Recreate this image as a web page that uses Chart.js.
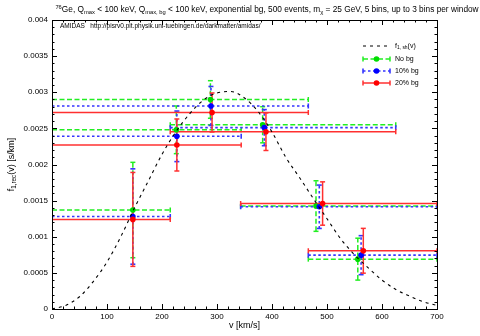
<!DOCTYPE html>
<html>
<head>
<meta charset="utf-8">
<script src="https://cdn.jsdelivr.net/npm/chart.js@4.4.0/dist/chart.umd.min.js"></script>
<style>
  html, body { margin: 0; padding: 0; background: #fff; }
</style>
</head>
<body>
<canvas id="chart" width="480" height="336"></canvas>
<script>
// theory curve f_1,sh(v)
var theoryV = [0, 25, 50, 75, 100, 125, 150, 175, 200, 225, 250, 275, 300, 325, 350, 375, 400, 425, 450, 475, 500, 525, 550, 575, 600, 625, 650, 675, 700];
var theoryF = [0, 0.00005, 0.00017, 0.00038, 0.00065, 0.00100, 0.00140, 0.00177, 0.00214, 0.00245, 0.00270, 0.00289, 0.00299, 0.00301, 0.00292, 0.00273, 0.00245, 0.00210, 0.00182, 0.00153, 0.00125, 0.00097, 0.00075, 0.00057, 0.00040, 0.00027, 0.00018, 0.00010, 0.00005];

// windows (same for the three runs), in km/s
var winLo = [0, 0, 0, 215, 343, 466];
var winHi = [215, 344, 466, 625, 700, 700];

// No bg
var noBgV = [147, 226, 288, 383, 480, 556];
var noBgF = [0.00137, 0.00248, 0.00290, 0.00255, 0.001425, 0.00069];
var noBgErr = [0.00066, 0.00033, 0.00026, 0.00025, 0.00035, 0.00029];

// 10% bg
var bg10V = [147, 227, 289, 386, 486, 562];
var bg10F = [0.00128, 0.00239, 0.00281, 0.00251, 0.001415, 0.000745];
var bg10Err = [0.00066, 0.00035, 0.00027, 0.00025, 0.00030, 0.00027];

// 20% bg
var bg20V = [147, 227, 291, 389, 492, 566];
var bg20F = [0.00124, 0.00227, 0.00272, 0.002454, 0.00146, 0.000806];
var bg20Err = [0.00065, 0.00036, 0.00027, 0.00026, 0.00030, 0.00031];

var FONT = '"Liberation Sans", Arial, sans-serif';

function toXY(xs, ys) {
  var out = [];
  for (var i = 0; i < xs.length; i++) out.push({ x: xs[i], y: ys[i] });
  return out;
}

var barSets = [
  { v: noBgV, f: noBgF, err: noBgErr, color: '#22ee22', dot: '#00dd00', dash: [5, 2.5], width: 1.5 },
  { v: bg10V, f: bg10F, err: bg10Err, color: '#3535ff', dot: '#0000ff', dash: [2.5, 2.5], width: 1.6 },
  { v: bg20V, f: bg20F, err: bg20Err, color: '#ff3030', dot: '#ff0000', dash: [], width: 1.5 }
];

// draws a line of text with sub/superscripts, segments = [[text, 0|1|-1], ...]
function richText(ctx, segs, x, y, size, align) {
  var w = 0, i;
  for (i = 0; i < segs.length; i++) {
    ctx.font = (segs[i][1] ? size * 0.7 : size) + 'px ' + FONT;
    w += ctx.measureText(segs[i][0]).width;
  }
  var cx = align === 'center' ? x - w / 2 : x;
  ctx.textBaseline = 'middle';
  ctx.textAlign = 'left';
  for (i = 0; i < segs.length; i++) {
    var s = segs[i];
    ctx.font = (s[1] ? size * 0.7 : size) + 'px ' + FONT;
    var dy = s[1] === -1 ? size * 0.3 : (s[1] === 1 ? -size * 0.35 : 0);
    ctx.fillText(s[0], cx, y + dy);
    cx += ctx.measureText(s[0]).width;
  }
}

function barLine(ctx, x0, y0, x1, y1) {
  ctx.beginPath();
  ctx.moveTo(x0, y0);
  ctx.lineTo(x1, y1);
  ctx.stroke();
}

var errorBars = {
  id: 'errorBars',
  beforeDatasetsDraw: function (chart) {
    var ctx = chart.ctx, xs = chart.scales.x, ys = chart.scales.y, a = chart.chartArea;
    ctx.save();
    ctx.beginPath();
    ctx.rect(a.left, a.top, a.right - a.left, a.bottom - a.top);
    ctx.clip();
    barSets.forEach(function (s) {
      ctx.strokeStyle = s.color;
      ctx.lineWidth = s.width;
      for (var i = 0; i < s.v.length; i++) {
        var px = xs.getPixelForValue(s.v[i]);
        var py = ys.getPixelForValue(s.f[i]);
        var x0 = xs.getPixelForValue(winLo[i]);
        var x1 = xs.getPixelForValue(winHi[i]);
        var y0 = ys.getPixelForValue(s.f[i] - s.err[i]);
        var y1 = ys.getPixelForValue(s.f[i] + s.err[i]);
        ctx.setLineDash(s.dash);
        barLine(ctx, x0, py, x1, py);
        barLine(ctx, px, y0, px, y1);
        ctx.setLineDash([]);
        // caps
        barLine(ctx, x0, py - 2.5, x0, py + 2.5);
        barLine(ctx, x1, py - 2.5, x1, py + 2.5);
        barLine(ctx, px - 2.5, y0, px + 2.5, y0);
        barLine(ctx, px - 2.5, y1, px + 2.5, y1);
      }
    });
    ctx.restore();
  }
};

// frame, inward ticks on all sides, titles, legend and the AMIDAS note
var decorations = {
  id: 'decorations',
  afterDraw: function (chart) {
    var ctx = chart.ctx, xs = chart.scales.x, ys = chart.scales.y, a = chart.chartArea;
    ctx.save();
    ctx.strokeStyle = '#000';
    ctx.lineWidth = 1;
    ctx.setLineDash([]);
    ctx.strokeRect(Math.round(a.left) + 0.5, Math.round(a.top) + 0.5, Math.round(a.right - a.left), Math.round(a.bottom - a.top));
    var v, p, len;
    for (v = 0; v <= 700; v += 20) {
      p = Math.round(xs.getPixelForValue(v)) + 0.5;
      len = v % 100 === 0 ? 5 : 2.5;
      barLine(ctx, p, a.bottom, p, a.bottom - len);
      barLine(ctx, p, a.top, p, a.top + len);
    }
    for (v = 0; v <= 40; v += 1) {
      p = Math.round(ys.getPixelForValue(v * 0.0001)) + 0.5;
      len = v % 5 === 0 ? 5 : 2.5;
      barLine(ctx, a.left, p, a.left + len, p);
      barLine(ctx, a.right, p, a.right - len, p);
    }

    ctx.fillStyle = '#000';
    richText(ctx, [['76', 1], ['Ge, Q', 0], ['max', -1], [' < 100 keV, Q', 0], ['max, bg', -1],
      [' < 100 keV, exponential bg, 500 events, m', 0], ['\u03c7', -1], [' = 25 GeV, 5 bins, up to 3 bins per window', 0]],
      267, 10, 8.3, 'center');

    richText(ctx, [['v [km/s]', 0]], (a.left + a.right) / 2, 326, 9, 'center');

    ctx.save();
    ctx.translate(12, (a.top + a.bottom) / 2);
    ctx.rotate(-Math.PI / 2);
    richText(ctx, [['f', 0], ['1,rec', -1], ['(v) [s/km]', 0]], 0, 0, 9, 'center');
    ctx.restore();

    ctx.font = '6.5px ' + FONT;
    ctx.textAlign = 'left';
    ctx.textBaseline = 'middle';
    ctx.fillText('AMIDAS   http://pisrv0.pit.physik.uni-tuebingen.de/darkmatter/amidas/', 60, 26);

    // legend
    var lx0 = 363, lx1 = 390, tx = 395;
    ctx.strokeStyle = '#000';
    ctx.lineWidth = 1;
    ctx.setLineDash([3, 4]);
    barLine(ctx, lx0, 46, lx1, 46);
    ctx.setLineDash([]);
    richText(ctx, [['f', 0], ['1, sh', -1], ['(v)', 0]], tx, 46, 7, 'left');
    var rows = [59, 71, 83], names = ['No bg', '10% bg', '20% bg'];
    barSets.forEach(function (s, i) {
      var y = rows[i];
      ctx.strokeStyle = s.color;
      ctx.lineWidth = s.width;
      ctx.setLineDash(s.dash);
      barLine(ctx, lx0, y, lx1, y);
      ctx.setLineDash([]);
      barLine(ctx, lx0, y - 2.5, lx0, y + 2.5);
      barLine(ctx, lx1, y - 2.5, lx1, y + 2.5);
      ctx.fillStyle = s.dot;
      ctx.beginPath();
      ctx.arc((lx0 + lx1) / 2, y, 2.8, 0, Math.PI * 2);
      ctx.fill();
      ctx.fillStyle = '#000';
      richText(ctx, [[names[i], 0]], tx, y, 7, 'left');
    });
    ctx.restore();
  }
};

var ctx = document.getElementById('chart');
var chart = new Chart(ctx, {
  type: 'scatter',
  data: {
    datasets: [
      { type: 'line', data: toXY(theoryV, theoryF), borderColor: '#000', borderWidth: 1.1, borderDash: [3, 4],
        pointRadius: 0, fill: false, cubicInterpolationMode: 'monotone' },
      { data: toXY(bg20V, bg20F), pointRadius: 2.8, pointBackgroundColor: '#ff0000', pointBorderWidth: 0, showLine: false },
      { data: toXY(bg10V, bg10F), pointRadius: 2.8, pointBackgroundColor: '#0000ff', pointBorderWidth: 0, showLine: false },
      { data: toXY(noBgV, noBgF), pointRadius: 2.8, pointBackgroundColor: '#00dd00', pointBorderWidth: 0, showLine: false }
    ]
  },
  options: {
    responsive: false,
    animation: false,
    devicePixelRatio: 1,
    layout: { padding: { left: 0, top: 20, right: 43, bottom: 0 } },
    plugins: { legend: { display: false }, tooltip: { enabled: false } },
    scales: {
      x: {
        type: 'linear', min: 0, max: 700,
        grid: { display: false, drawTicks: false }, border: { display: false },
        ticks: { stepSize: 100, color: '#000', font: { family: FONT, size: 8 }, padding: 3, maxRotation: 0 },
        afterFit: function (s) { s.height = 27; }
      },
      y: {
        min: 0, max: 0.004,
        grid: { display: false, drawTicks: false }, border: { display: false },
        ticks: { stepSize: 0.0005, color: '#000', font: { family: FONT, size: 8 }, padding: 4,
          callback: function (v) { return String(+v.toFixed(4)); } },
        afterFit: function (s) { s.width = 52; }
      }
    }
  },
  plugins: [errorBars, decorations]
});
</script>
</body>
</html>
